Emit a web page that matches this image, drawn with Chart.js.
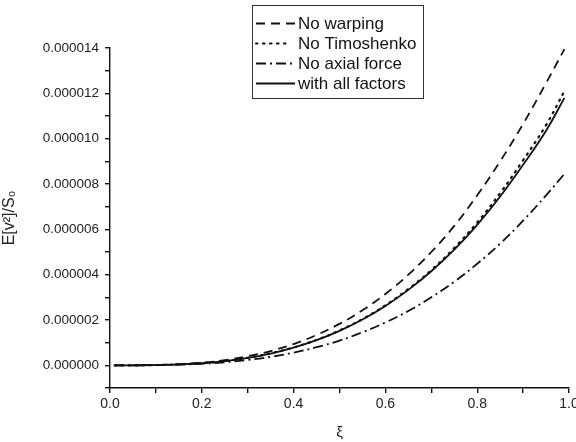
<!DOCTYPE html>
<html>
<head>
<meta charset="utf-8">
<script src="https://cdn.jsdelivr.net/npm/chart.js@4.4.1/dist/chart.umd.min.js"></script>
<style>
  html, body { margin: 0; padding: 0; background: #fff; }
  #wrap { width: 576px; height: 442px; position: relative; }
</style>
</head>
<body>
<div id="wrap"><canvas id="c" width="576" height="442"></canvas></div>
<script>
// ---- data (values in units of 1e-6) ----
const xi = [0.01,0.05,0.1,0.15,0.2,0.25,0.3,0.35,0.4,0.45,0.5,0.55,0.6,0.65,0.7,0.75,0.8,0.85,0.9,0.95,0.99];
const noWarping    = [0,0.002,0.015,0.05,0.116,0.23,0.40,0.63,0.94,1.34,1.83,2.43,3.15,4.0,5.0,6.15,7.5,9.0,10.65,12.45,13.95];
const noTimoshenko = [0,0.002,0.012,0.04,0.097,0.19,0.33,0.53,0.79,1.12,1.54,2.04,2.65,3.37,4.2,5.18,6.3,7.6,9.05,10.6,12.1];
const noAxialForce = [0,0.001,0.009,0.03,0.07,0.137,0.236,0.375,0.56,0.80,1.09,1.46,1.89,2.40,3.0,3.69,4.48,5.37,6.38,7.5,8.45];
const allFactors   = [0,0.002,0.012,0.04,0.096,0.19,0.33,0.52,0.78,1.11,1.52,2.02,2.62,3.33,4.15,5.1,6.2,7.45,8.85,10.35,11.8];
const seriesNames  = ['No warping','No Timoshenko','No axial force','with all factors'];
const xTicks = [0,0.1,0.2,0.3,0.4,0.5,0.6,0.7,0.8,0.9,1.0];
const yTicks = [-1,0,1,2,3,4,5,6,7,8,9,10,11,12,13,14]; // x 1e-6
const SCALE = 1e-6;

const toPts = arr => arr.map((v,i) => ({x: xi[i], y: v*SCALE}));
const INK = '#111';
const styles = [
  {borderDash:[9,6]},
  {borderDash:[1.5,5.5], borderCapStyle:'round', borderWidth: 2.2},
  {borderDash:[10,4,2,4]},
  {borderDash:[]}
];
const series = [noWarping, noTimoshenko, noAxialForce, allFactors];
const datasets = series.map((s,i) => Object.assign({
  label: seriesNames[i],
  data: toPts(s),
  borderColor: INK,
  borderWidth: 1.8,
  pointRadius: 0,
  tension: 0.4,
  fill: false
}, styles[i]));

const FONT = '"Liberation Sans", Arial, sans-serif';

const legendBox = {
  id: 'legendBox',
  afterDraw(chart) {
    const ctx = chart.ctx;
    const L = 252, T = 5, R = 423, B = 98;
    ctx.save();
    ctx.fillStyle = '#fff';
    ctx.fillRect(L, T, R-L, B-T);
    ctx.strokeStyle = '#333';
    ctx.lineWidth = 1;
    ctx.strokeRect(L+0.5, T+0.5, R-L, B-T);
    const rows = [23, 43, 63, 83];
    chart.data.datasets.forEach((ds, i) => {
      const y = rows[i];
      ctx.beginPath();
      ctx.strokeStyle = INK;
      ctx.lineWidth = ds.borderWidth || 1.8;
      ctx.setLineDash(ds.borderDash || []);
      ctx.lineCap = ds.borderCapStyle || 'butt';
      ctx.moveTo(256, y + 0.5);
      ctx.lineTo(i === 1 ? 290 : 295, y + 0.5);
      ctx.stroke();
      ctx.setLineDash([]);
      ctx.fillStyle = '#111';
      ctx.font = '17px ' + FONT;
      ctx.textBaseline = 'middle';
      ctx.textAlign = 'left';
      ctx.fillText(ds.label, 298, y + 1);
    });
    ctx.restore();
  }
};

new Chart(document.getElementById('c'), {
  type: 'line',
  data: { datasets },
  plugins: [legendBox],
  options: {
    responsive: false,
    animation: false,
    layout: { padding: { left: 0, top: 48, right: 7, bottom: 0 } },
    plugins: { legend: { display: false }, tooltip: { enabled: false } },
    scales: {
      x: {
        type: 'linear', min: 0, max: 1,
        afterBuildTicks: s => { s.ticks = xTicks.map(v => ({value: v})); },
        afterFit: s => { s.height = 54; s.paddingLeft = 0; s.paddingRight = 0; },
        border: { display: true, color: '#111', width: 1.4 },
        grid: { display: true, drawOnChartArea: false, tickLength: 5, color: '#111', lineWidth: 1.4 },
        ticks: {
          color: '#222', font: { family: FONT, size: 14 }, padding: 3, maxRotation: 0, autoSkip: false,
          callback: (v, i) => (i % 2 === 0 ? v.toFixed(1) : '')
        },
        title: { display: true, text: 'ξ', color: '#222', font: { family: FONT, size: 15 }, padding: { top: 6, bottom: 0 } }
      },
      y: {
        type: 'linear', min: -1*SCALE, max: 14*SCALE,
        afterBuildTicks: s => { s.ticks = yTicks.map(v => ({value: v*SCALE})); },
        afterFit: s => { s.width = 110; },
        border: { display: true, color: '#111', width: 1.4 },
        grid: { display: true, drawOnChartArea: false, tickLength: 5, color: '#111', lineWidth: 1.4 },
        ticks: {
          color: '#222', font: { family: FONT, size: 13.5 }, padding: 6, autoSkip: false,
          callback: (v, i) => { const n = yTicks[i]; return (n >= 0 && n % 2 === 0) ? (n*SCALE).toFixed(6) : ''; }
        },
        title: { display: true, text: 'E[v²]/S₀', color: '#222', font: { family: FONT, size: 16 }, padding: { top: 0, bottom: 4 } }
      }
    }
  }
});
</script>
</body>
</html>
